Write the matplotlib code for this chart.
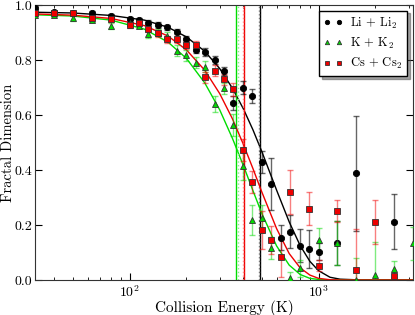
import matplotlib
matplotlib.use('Agg')
import matplotlib.pyplot as plt

plt.rcParams['font.family'] = 'serif'
plt.rcParams['font.serif'] = ['cmr10']
plt.rcParams['mathtext.fontset'] = 'cm'
plt.rcParams['axes.formatter.use_mathtext'] = True

# measured points
E_li = [31.6, 39.8, 50.1, 63.1, 79.4, 100, 112, 126, 141, 158, 178, 200, 224, 251, 282, 316,
        355, 398, 447, 501, 562, 631, 708, 794, 891, 1000, 1259, 1585, 2512]
D_li = [0.99, 0.975, 0.972, 0.972, 0.960, 0.948, 0.945, 0.936, 0.928, 0.919, 0.903, 0.876, 0.836,
        0.829, 0.80, 0.761, 0.643, 0.70, 0.67, 0.43, 0.348, 0.154, 0.175, 0.125, 0.113, 0.103,
        0.133, 0.388, 0.212]
err_li = [0.005, 0.005, 0.005, 0.008, 0.008, 0.008, 0.008, 0.008, 0.01, 0.01, 0.01, 0.012, 0.012,
          0.015, 0.015, 0.015, 0.025, 0.025, 0.025, 0.04, 0.095, 0.045, 0.06, 0.06, 0.07, 0.03,
          0.08, 0.21, 0.1]

E_k = [31.6, 39.8, 50.1, 63.1, 79.4, 100, 112, 126, 141, 158, 178, 200, 224, 251, 282, 316,
       355, 398, 447, 501, 562, 708, 794, 1000, 1259, 1585, 1995, 2512, 3162]
D_k = [0.965, 0.965, 0.951, 0.945, 0.924, 0.935, 0.925, 0.893, 0.90, 0.887, 0.834, 0.818, 0.79,
       0.776, 0.64, 0.697, 0.564, 0.415, 0.218, 0.224, 0.115, 0.008, 0.042, 0.145, 0.133, 0.0,
       0.02, 0.04, 0.133]
err_k = [0.005, 0.005, 0.008, 0.008, 0.01, 0.01, 0.01, 0.012, 0.012, 0.015, 0.02, 0.02, 0.02,
         0.02, 0.03, 0.02, 0.04, 0.05, 0.055, 0.05, 0.04, 0.02, 0.03, 0.045, 0.08, 0.08, 0.12,
         0.03, 0.06]

E_cs = [31.6, 39.8, 50.1, 63.1, 79.4, 100, 112, 126, 141, 158, 178, 200, 224, 251, 282, 316,
        355, 398, 447, 501, 562, 631, 708, 891, 1000, 1259, 1585, 1995, 2512]
D_cs = [0.972, 0.972, 0.970, 0.951, 0.948, 0.927, 0.933, 0.912, 0.897, 0.875, 0.875, 0.855,
        0.855, 0.737, 0.761, 0.73, 0.693, 0.473, 0.357, 0.182, 0.145, 0.082, 0.319, 0.26, 0.051,
        0.251, 0.036, 0.212, 0.016]
err_cs = [0.006, 0.006, 0.006, 0.008, 0.008, 0.01, 0.01, 0.01, 0.012, 0.012, 0.012, 0.015,
          0.015, 0.02, 0.02, 0.02, 0.025, 0.04, 0.04, 0.07, 0.05, 0.07, 0.08, 0.06, 0.02, 0.04,
          0.15, 0.08, 0.012]

# fitted curves
E_fit = [30, 50, 80, 120, 160, 200, 250, 300, 350, 400, 450, 500, 600, 700, 800, 900, 1000,
         1150, 1300, 1700, 2300, 3200]
fit_li = [0.974, 0.971, 0.962, 0.945, 0.919, 0.884, 0.832, 0.769, 0.698, 0.623, 0.546, 0.469,
          0.327, 0.211, 0.125, 0.068, 0.034, 0.010, 0.003, 0.0, 0.0, 0.0]
fit_k = [0.965, 0.960, 0.945, 0.912, 0.865, 0.806, 0.717, 0.619, 0.516, 0.417, 0.325, 0.244,
         0.124, 0.054, 0.020, 0.006, 0.002, 0.0, 0.0, 0.0, 0.0, 0.0]
fit_cs = [0.968, 0.963, 0.951, 0.925, 0.887, 0.837, 0.763, 0.678, 0.587, 0.494, 0.405, 0.322,
          0.187, 0.096, 0.044, 0.018, 0.006, 0.001, 0.0, 0.0, 0.0, 0.0]

# half-point energies (solid, dotted)
half_li = [488, 482]
half_k = [366, 373]
half_cs = [405, 401]

fig = plt.figure(figsize=(4.15, 3.15), dpi=100)
ax = fig.add_axes([35/415, 35/315, 378/415, 275/315])

series = [
    (E_li, D_li, err_li, fit_li, half_li, 'k', (0, 0, 0, 0.6), 'o', 4.5, r'Li + Li$_2$', '#777777'),
    (E_k, D_k, err_k, fit_k, half_k, '#00dd00', (0, 0.85, 0, 0.5), '^', 4.5, r'K + K$_2$', '#88ee88'),
    (E_cs, D_cs, err_cs, fit_cs, half_cs, '#ee0000', (0.95, 0, 0, 0.5), 's', 5, r'Cs + Cs$_2$', '#ff8888'),
]

for E, D, err, fit, half, col, ecol, mk, ms, lab, dotcol in series:
    ax.plot(E_fit, fit, color=col, lw=1, zorder=2)
    ax.axvline(half[0], color=col, lw=1, zorder=2)
    ax.axvline(half[1], color=dotcol, lw=1, ls=':', zorder=2)

for E, D, err, fit, half, col, ecol, mk, ms, lab, dotcol in series:
    ax.errorbar(E, D, yerr=err, fmt='none', ecolor=ecol, elinewidth=1, capsize=2.5, zorder=3)
    edge = '#333333' if col != 'k' else 'k'
    ax.plot(E, D, ls='none', marker=mk, ms=ms, color=col, mec=edge, mew=0.6, label=lab, zorder=4)

ax.set_xscale('log')
ax.set_xlim(10**1.5, 10**3.5)
ax.set_ylim(0, 1)
ax.set_yticks([0.0, 0.2, 0.4, 0.6, 0.8, 1.0])
ax.set_yticklabels(['0.0', '0.2', '0.4', '0.6', '0.8', '1.0'])
ax.tick_params(which='both', direction='in', top=True, right=True, labelsize=10)
ax.tick_params(which='major', length=5)
ax.tick_params(which='minor', length=2.5)
ax.tick_params(axis='x', pad=3)
ax.tick_params(axis='y', pad=2)
for s in ax.spines.values():
    s.set_color('#333333')
ax.set_xlabel('Collision Energy (K)', fontsize=11, labelpad=0)
ax.set_ylabel('Fractal Dimension', fontsize=10.5)
ax.yaxis.set_label_coords(-0.054, 0.5)

leg = ax.legend(loc='upper right', numpoints=2, fontsize=9, fancybox=False, shadow=True,
                markerscale=0.7, handlelength=1.5, handletextpad=0.6, labelspacing=0.4,
                borderaxespad=0.45, borderpad=0.4)
leg.get_frame().set_edgecolor('k')

fig.savefig('out.png', dpi=100)
